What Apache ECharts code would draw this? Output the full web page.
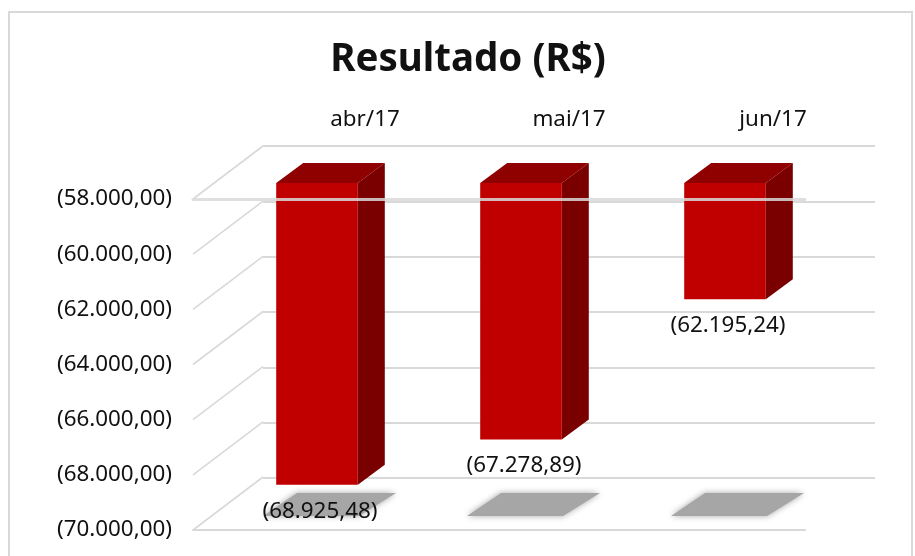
<!DOCTYPE html>
<html>

<head>
	<meta charset="utf-8" />
	<title>Resultado (R$)</title>
	<script src="https://cdn.jsdelivr.net/npm/echarts@6/dist/echarts.min.js"></script>
	<style>
		html, body { margin: 0; padding: 0; background: #fff; }
		#main { width: 915px; height: 556px; }
	</style>
</head>

<body>
	<div id="main"></div>
	<script type="text/javascript">
		var categories = ['abr/17', 'mai/17', 'jun/17'];
		var resultado = [-68925.48, -67278.89, -62195.24];
		var yTicks = [-70000, -68000, -66000, -64000, -62000, -60000, -58000];

		var yMin = -70000;
		var yMax = -58000;
		var fontName = '"Noto Sans", sans-serif';

		// deslocamento entre o plano da frente e a parede do fundo
		var depthX = 70;
		var depthY = -53;

		function moeda(v) {
			var parts = Math.abs(v).toFixed(2).split('.');
			var inteiro = parts[0].replace(/\B(?=(\d{3})+$)/g, '.');
			return (v < 0 ? '(' + inteiro + ',' + parts[1] + ')' : inteiro + ',' + parts[1]);
		}

		// diagonais da parede lateral e linha do chao
		function renderWall(params, api) {
			var y = api.coord([0, api.value(0)])[1];
			var x = params.coordSys.x;
			return {
				type: 'line',
				shape: { x1: x, y1: y, x2: x + depthX, y2: y + depthY },
				style: { stroke: '#d9d9d9', lineWidth: 1.6 }
			};
		}

		// sombra no chao
		function renderShadow(params, api) {
			var c = api.coord([api.value(0), yMin]);
			return {
				type: 'polygon',
				shape: {
					points: [
						[c[0] - 32, c[1] - 14],
						[c[0] + 64, c[1] - 14],
						[c[0] + 101, c[1] - 37],
						[c[0] + 2, c[1] - 37]
					]
				},
				style: { fill: '#a6a6a6', shadowBlur: 6, shadowColor: '#a6a6a6' }
			};
		}

		// barra em 3D: frente, topo e lateral
		function renderBar(params, api) {
			var i = api.value(0);
			var base = api.coord([i, api.value(1)]);
			var top = api.coord([i, yMax]);
			var w = api.size([1, 0])[0] * 0.4;
			var x0 = base[0] + 22 - w / 2;
			var x1 = x0 + w;
			var y0 = top[1] - 16;
			var y1 = base[1] - 15.5;
			var dx = 27;
			var dy = -20;
			return {
				type: 'group',
				children: [
					{
						type: 'polygon',
						shape: { points: [[x0, y0], [x1, y0], [x1 + dx, y0 + dy], [x0 + dx, y0 + dy]] },
						style: { fill: '#8f0000' }
					},
					{
						type: 'polygon',
						shape: { points: [[x1, y0], [x1 + dx, y0 + dy], [x1 + dx, y1 + dy], [x1, y1]] },
						style: { fill: '#7a0000' }
					},
					{
						type: 'rect',
						shape: { x: x0, y: y0, width: w, height: y1 - y0 },
						style: { fill: '#c00000' }
					}
				]
			};
		}

		function renderLabel(params, api) {
			var i = api.value(0);
			var v = api.value(1);
			var p = api.coord([i, v]);
			return {
				type: 'text',
				style: {
					x: p[0] + 25,
					y: p[1] + 11,
					text: moeda(v),
					fill: '#111',
					font: '22.4px ' + fontName,
					align: 'center',
					verticalAlign: 'middle'
				}
			};
		}

		var myChart = echarts.init(document.getElementById('main'));

		var option = {
			backgroundColor: '#fff',
			animation: false,
			title: {
				text: 'Resultado (R$)',
				left: 463,
				top: 36,
				textAlign: 'center',
				textStyle: { fontFamily: fontName, fontSize: 38.5, fontWeight: 'bold', color: '#111' }
			},
			graphic: [{
				type: 'rect',
				silent: true,
				shape: { x: 9, y: 12, width: 903, height: 560 },
				style: { fill: 'none', stroke: '#d9d9d9', lineWidth: 2 }
			}],
			grid: [
				{ left: 193, right: 110, top: 199, bottom: 26 },
				{ left: 263, right: 40, top: 146, bottom: 78 }
			],
			xAxis: [
				{
					gridIndex: 0, type: 'category', data: categories, position: 'top', z: 10,
					axisLine: { show: true, onZero: false, lineStyle: { color: 'rgba(217,217,217,0.85)', width: 3 } },
					axisTick: { show: false }, axisLabel: { show: false }, splitLine: { show: false }
				},
				{
					gridIndex: 0, type: 'category', data: categories, position: 'bottom',
					axisLine: { show: true, onZero: false, lineStyle: { color: '#d9d9d9', width: 2 } },
					axisTick: { show: false }, axisLabel: { show: false }, splitLine: { show: false }
				},
				{
					gridIndex: 1, type: 'category', data: categories, position: 'top',
					axisLine: { show: false }, axisTick: { show: false }, splitLine: { show: false },
					axisLabel: { margin: 15, fontFamily: fontName, fontSize: 22.4, color: '#111' }
				}
			],
			yAxis: [
				{
					gridIndex: 0, type: 'value', min: yMin, max: yMax, interval: 2000,
					axisLine: { show: false }, axisTick: { show: false }, splitLine: { show: false },
					axisLabel: {
						margin: 21, fontFamily: fontName, fontSize: 22.4, color: '#111',
						padding: [8, 0, 0, 0],
						formatter: function (v) { return moeda(v); }
					}
				},
				{
					gridIndex: 1, type: 'value', min: yMin, max: yMax, interval: 2000,
					axisLine: { show: false }, axisTick: { show: false }, axisLabel: { show: false },
					splitLine: { show: true, lineStyle: { color: '#d9d9d9', width: 2 } }
				}
			],
			series: [
				{
					type: 'custom', xAxisIndex: 0, yAxisIndex: 0, z: 1, silent: true,
					encode: { y: 0 },
					data: yTicks.map(function (v) { return [v]; }),
					renderItem: renderWall
				},
				{
					type: 'custom', xAxisIndex: 0, yAxisIndex: 0, z: 2, silent: true,
					data: categories.map(function (c, i) { return [i]; }),
					renderItem: renderShadow
				},
				{
					type: 'custom', xAxisIndex: 0, yAxisIndex: 0, z: 3, silent: true,
					data: resultado.map(function (v, i) { return [i, v]; }),
					renderItem: renderBar
				},
				{
					type: 'custom', xAxisIndex: 0, yAxisIndex: 0, z: 20, silent: true,
					data: resultado.map(function (v, i) { return [i, v]; }),
					renderItem: renderLabel
				}
			]
		};

		myChart.setOption(option);
	</script>
</body>

</html>
